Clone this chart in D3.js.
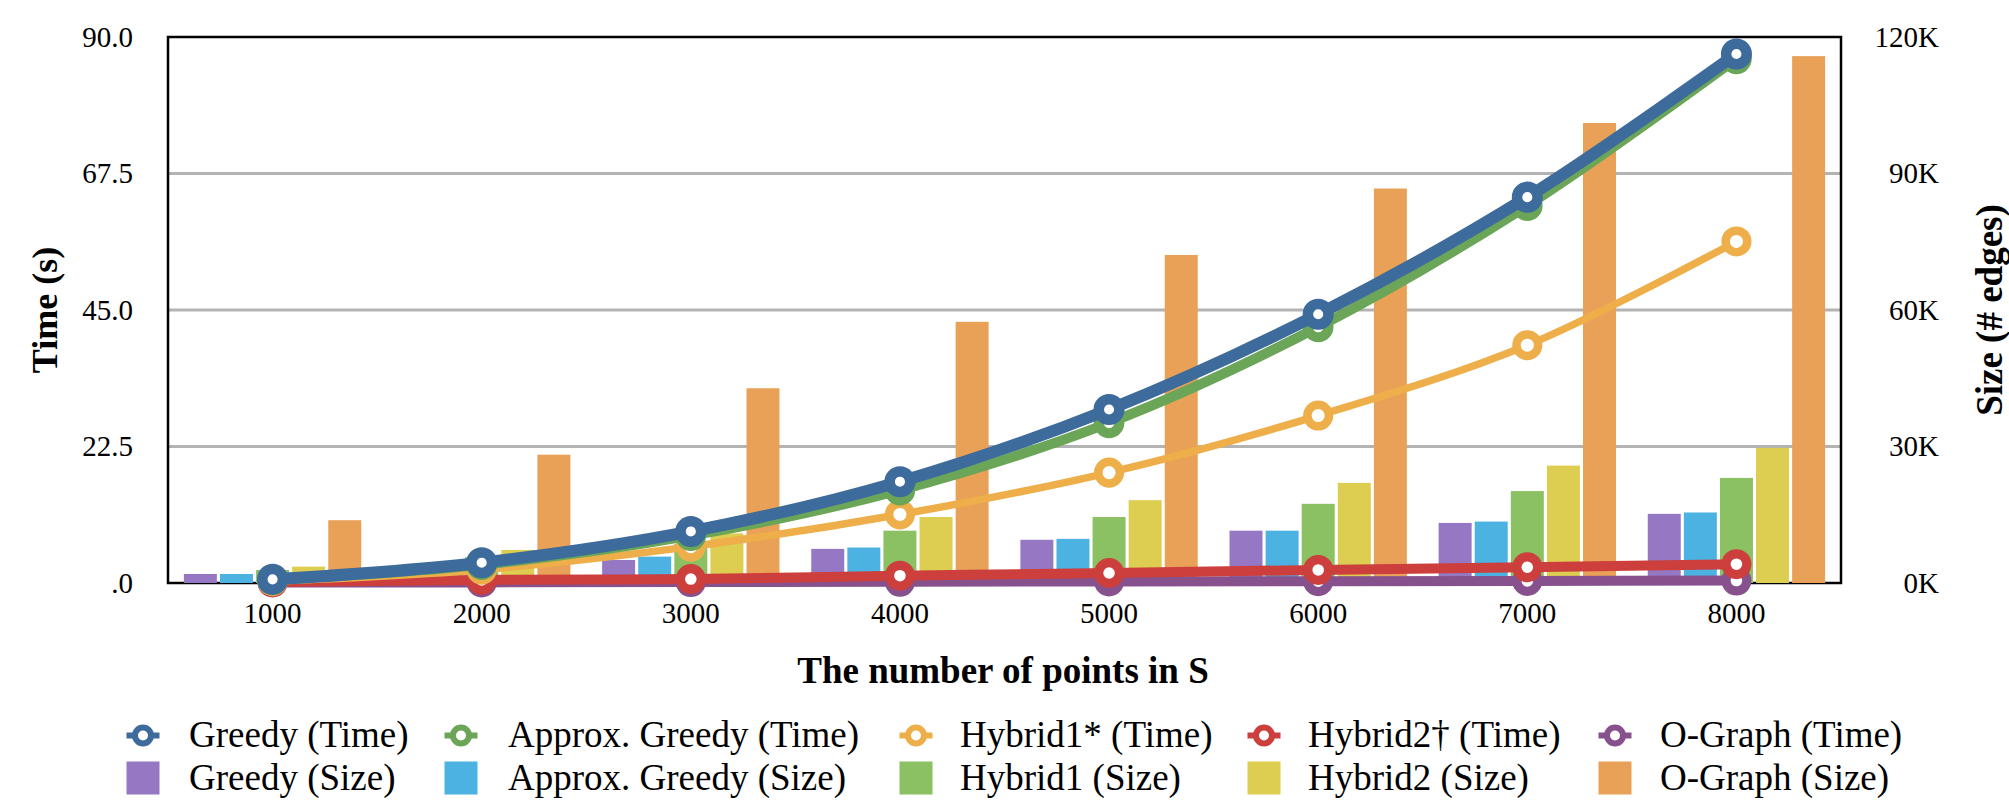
<!DOCTYPE html>
<html>
<head>
<meta charset="utf-8">
<script src="https://cdn.jsdelivr.net/npm/d3@7/dist/d3.min.js"></script>
<style>
  html, body { margin: 0; padding: 0; background: #fff; }
  svg text { font-family: "Liberation Serif", "Times New Roman", serif; fill: #000; }
</style>
</head>
<body>
<svg id="chart" width="2009" height="801"></svg>
<script>
// ---- data ----
const categories = ["1000", "2000", "3000", "4000", "5000", "6000", "7000", "8000"];

// Time series (seconds, left axis)
const greedyTime   = [0.6, 3.35, 8.5, 16.7, 28.6, 44.3, 63.6, 87.2];
const approxTime   = [0.5, 3.0, 7.8, 15.3, 26.4, 42.2, 62.2, 86.4];
const hybrid1Time  = [0.3, 2.2, 6.0, 11.3, 18.2, 27.6, 39.2, 56.3];
const hybrid2Time  = [0.15, 0.5, 0.65, 1.2, 1.65, 2.15, 2.6, 3.1];
const ographTime   = [0.1, 0.1, 0.15, 0.2, 0.25, 0.3, 0.35, 0.4];

// Size series (# edges, right axis)
const greedySize   = [1980, 3300, 5050, 7500, 9500, 11500, 13200, 15200];
const approxSize   = [1980, 3800, 5800, 7800, 9700, 11500, 13500, 15500];
const hybrid1Size  = [2860, 5700, 8600, 11500, 14500, 17400, 20200, 23100];
const hybrid2Size  = [3600, 7250, 10900, 14500, 18200, 22000, 25800, 29700];
const ographSize   = [13800, 28200, 42800, 57400, 72100, 86700, 101100, 115800];

const leftTicks  = [0, 22.5, 45, 67.5, 90];
const leftTickLabels = [".0", "22.5", "45.0", "67.5", "90.0"];
const rightTicks = [0, 30000, 60000, 90000, 120000];
const rightTickLabels = ["0K", "30K", "60K", "90K", "120K"];

const timeNames = ["Greedy (Time)", "Approx. Greedy (Time)", "Hybrid1* (Time)", "Hybrid2† (Time)", "O-Graph (Time)"];
const sizeNames = ["Greedy (Size)", "Approx. Greedy (Size)", "Hybrid1 (Size)", "Hybrid2 (Size)", "O-Graph (Size)"];
const timeColors = ["#3D6B9C", "#6BA557", "#EEAF4A", "#CC3F3C", "#87518D"];
const sizeColors = ["#9677C3", "#4BB2E2", "#8BC163", "#DDCD50", "#E9A158"];

const timeSeries = [greedyTime, approxTime, hybrid1Time, hybrid2Time, ographTime];
const sizeSeries = [greedySize, approxSize, hybrid1Size, hybrid2Size, ographSize];

// ---- layout ----
const L = 168, R = 1841, T = 37, B = 583;
const svg = d3.select("#chart");

const x0 = d3.scaleBand().domain(categories).range([L, R]).padding(0);
const x1 = d3.scaleBand().domain(sizeNames).range([0, x0.bandwidth()])
  .paddingInner(0.086).paddingOuter(0.44);
const yTime = d3.scaleLinear().domain([0, 90]).range([B, T]);
const ySize = d3.scaleLinear().domain([0, 120000]).range([B, T]);

// gridlines
svg.append("g").selectAll("line")
  .data(leftTicks.filter(d => d > 0 && d < 90))
  .join("line")
  .attr("x1", L).attr("x2", R)
  .attr("y1", d => yTime(d)).attr("y2", d => yTime(d))
  .attr("stroke", "#B3B3B3").attr("stroke-width", 3);

// frame
svg.append("rect")
  .attr("x", L).attr("y", T).attr("width", R - L).attr("height", B - T)
  .attr("fill", "none").attr("stroke", "#000").attr("stroke-width", 2.5);

// bars
sizeSeries.forEach((vals, si) => {
  svg.append("g").selectAll("rect")
    .data(vals)
    .join("rect")
    .attr("x", (d, i) => x0(categories[i]) + x1(sizeNames[si]))
    .attr("width", x1.bandwidth())
    .attr("y", d => ySize(d))
    .attr("height", d => B - ySize(d))
    .attr("fill", sizeColors[si]);
});

// lines (drawn reverse so Greedy is on top)
const lineW = [12, 10, 7.5, 10, 10];
const markR = [10.3, 10.3, 10.8, 10.4, 10.4];
const markW = [10.5, 10, 8.5, 9.2, 9.2];
const line = d3.line()
  .x((d, i) => x0(categories[i]) + x0.bandwidth() / 2)
  .y(d => yTime(d))
  .curve(d3.curveCatmullRom.alpha(0.5));

for (let si = timeSeries.length - 1; si >= 0; si--) {
  const g = svg.append("g");
  g.append("path")
    .datum(timeSeries[si])
    .attr("d", line)
    .attr("fill", "none")
    .attr("stroke", timeColors[si])
    .attr("stroke-width", lineW[si])
    .attr("stroke-linejoin", "round");
  g.selectAll("circle")
    .data(timeSeries[si])
    .join("circle")
    .attr("cx", (d, i) => x0(categories[i]) + x0.bandwidth() / 2)
    .attr("cy", d => yTime(d))
    .attr("r", markR[si])
    .attr("fill", "#fff")
    .attr("stroke", timeColors[si])
    .attr("stroke-width", markW[si]);
}

// axes tick labels
const tickFont = 29;
svg.append("g").selectAll("text")
  .data(leftTicks)
  .join("text")
  .attr("x", 133)
  .attr("y", d => yTime(d))
  .attr("dy", "0.34em")
  .attr("text-anchor", "end")
  .attr("font-size", tickFont)
  .text((d, i) => leftTickLabels[i]);

svg.append("g").selectAll("text")
  .data(rightTicks)
  .join("text")
  .attr("x", 1939)
  .attr("y", d => ySize(d))
  .attr("dy", "0.34em")
  .attr("text-anchor", "end")
  .attr("font-size", tickFont)
  .text((d, i) => rightTickLabels[i]);

svg.append("g").selectAll("text")
  .data(categories)
  .join("text")
  .attr("x", d => x0(d) + x0.bandwidth() / 2)
  .attr("y", 623)
  .attr("text-anchor", "middle")
  .attr("font-size", tickFont)
  .text(d => d);

// axis titles
svg.append("text")
  .attr("x", 1003).attr("y", 683)
  .attr("text-anchor", "middle")
  .attr("font-size", 37).attr("font-weight", "bold")
  .text("The number of points in S");

svg.append("text")
  .attr("transform", "translate(57," + ((T + B) / 2) + ") rotate(-90)")
  .attr("text-anchor", "middle")
  .attr("font-size", 36).attr("font-weight", "bold")
  .text("Time (s)");

svg.append("text")
  .attr("transform", "translate(2002," + ((T + B) / 2) + ") rotate(-90)")
  .attr("text-anchor", "middle")
  .attr("font-size", 37).attr("font-weight", "bold")
  .text("Size (# edges)");

// legend
const legMarkX = [143, 461, 916, 1264, 1615];
const legTextX = [189, 508, 960, 1308, 1660];
const row1 = 735.5, row2 = 778;
const legFont = 37;
timeNames.forEach((name, i) => {
  const g = svg.append("g");
  g.append("line")
    .attr("x1", legMarkX[i] - 16.5).attr("x2", legMarkX[i] + 16.5)
    .attr("y1", row1).attr("y2", row1)
    .attr("stroke", timeColors[i]).attr("stroke-width", 6);
  g.append("circle")
    .attr("cx", legMarkX[i]).attr("cy", row1).attr("r", 8)
    .attr("fill", "#fff").attr("stroke", timeColors[i]).attr("stroke-width", 6);
  g.append("text")
    .attr("x", legTextX[i]).attr("y", row1 + 11.5)
    .attr("font-size", legFont)
    .text(name);
});
sizeNames.forEach((name, i) => {
  const g = svg.append("g");
  g.append("rect")
    .attr("x", legMarkX[i] - 16.5).attr("y", row2 - 16.5)
    .attr("width", 33).attr("height", 33)
    .attr("fill", sizeColors[i]);
  g.append("text")
    .attr("x", legTextX[i]).attr("y", row2 + 12)
    .attr("font-size", legFont)
    .text(name);
});
</script>
</body>
</html>
